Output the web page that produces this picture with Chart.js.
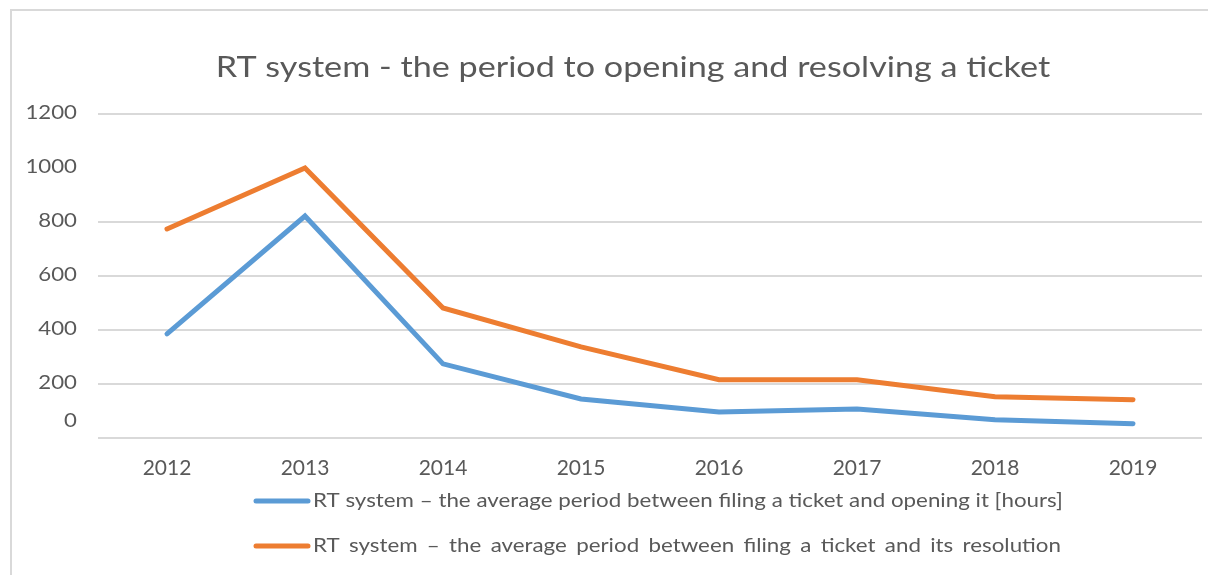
<!DOCTYPE html>
<html>
<head>
<meta charset="utf-8">
<script src="https://cdn.jsdelivr.net/npm/chart.js@4"></script>
<style>
  html, body { margin: 0; padding: 0; background: #fff; }
  #wrap { width: 1208px; height: 575px; }
</style>
</head>
<body>
<div id="wrap"><canvas id="c" width="1208" height="575"></canvas></div>
<script>
"use strict";
const TITLE = "RT system - the period to opening and resolving a ticket";
const years = ["2012", "2013", "2014", "2015", "2016", "2017", "2018", "2019"];
const openingHours = [385, 822, 274, 144, 96, 107, 67, 52];
const resolutionHours = [774, 1000, 481, 337, 215, 215, 152, 141];
const seriesLabels = [
  "RT system \u2013 the average period between filing a ticket and opening it [hours]",
  "RT system \u2013 the average period between filing a ticket and its resolution"
];
const yTicks = [0, 200, 400, 600, 800, 1000, 1200];

const FONT = "Lato, 'Open Sans', sans-serif";
const TXT = "#595959";
const GRID = "#d9d9d9";

// text in the original is a wide font, so stretch Lato sideways a bit
function wideText(c, s, x, y, sx, align) {
  c.save();
  c.translate(x, y);
  c.scale(sx, 1);
  c.textAlign = align;
  c.fillText(s, 0, 0);
  c.restore();
}

// frame, title, y labels and legend drawn by hand to keep Excel's layout
const decor = {
  id: "decor",
  beforeDraw(chart) {
    const c = chart.ctx;
    c.save();
    c.strokeStyle = GRID; c.lineWidth = 2;
    c.beginPath(); c.moveTo(11, 575); c.lineTo(11, 10); c.lineTo(1208, 10); c.stroke();
    c.restore();
  },
  afterDraw(chart) {
    const c = chart.ctx, y = chart.scales.y;
    c.save();
    c.fillStyle = TXT;
    c.textBaseline = "middle";
    c.font = "28px " + FONT;
    wideText(c, TITLE, 633, 68, 1.22, "center");

    c.font = "20px " + FONT;
    yTicks.forEach(v => {
      const py = y.getPixelForValue(v) - (v === 0 ? 17 : 1);
      wideText(c, String(v), 77, py, 1.11, "right");
    });

    c.font = "19px " + FONT;
    chart.data.datasets.forEach((ds, i) => {
      const ly = 501 + i * 45;
      c.strokeStyle = ds.borderColor; c.lineWidth = 5; c.lineCap = "round";
      c.beginPath(); c.moveTo(256, ly); c.lineTo(308, ly); c.stroke();
      const sx = 1.176;
      const w = c.measureText(ds.label).width * sx;
      const gaps = ds.label.split(" ").length - 1;
      if (i > 0 && "wordSpacing" in c) c.wordSpacing = Math.max(0, (748 - w) / gaps / sx) + "px";
      wideText(c, ds.label, 313, ly, sx, "left");
      if ("wordSpacing" in c) c.wordSpacing = "0px";
    });
    c.restore();
  }
};

new Chart(document.getElementById("c"), {
  type: "line",
  data: {
    labels: years,
    datasets: [
      { label: seriesLabels[0], data: openingHours, borderColor: "#5b9bd5", borderWidth: 5, pointRadius: 0, borderCapStyle: "round", tension: 0 },
      { label: seriesLabels[1], data: resolutionHours, borderColor: "#ed7d31", borderWidth: 5, pointRadius: 0, borderCapStyle: "round", tension: 0 }
    ]
  },
  options: {
    responsive: false,
    animation: false,
    layout: { padding: { left: 98, right: 6, top: 114, bottom: 84 } },
    plugins: { legend: { display: false }, title: { display: false }, tooltip: { enabled: false } },
    scales: {
      x: {
        offset: true,
        grid: { display: false },
        border: { display: false },
        ticks: { color: TXT, font: { family: FONT, size: 21 }, padding: 10, maxRotation: 0 }
      },
      y: {
        min: 0, max: 1200,
        border: { display: false },
        grid: { drawTicks: false, lineWidth: 2, color: ctx => ctx.tick && ctx.tick.value === 1000 ? "rgba(0,0,0,0)" : GRID },
        ticks: { display: false, stepSize: 200 }
      }
    }
  },
  plugins: [decor]
});
</script>
</body>
</html>
